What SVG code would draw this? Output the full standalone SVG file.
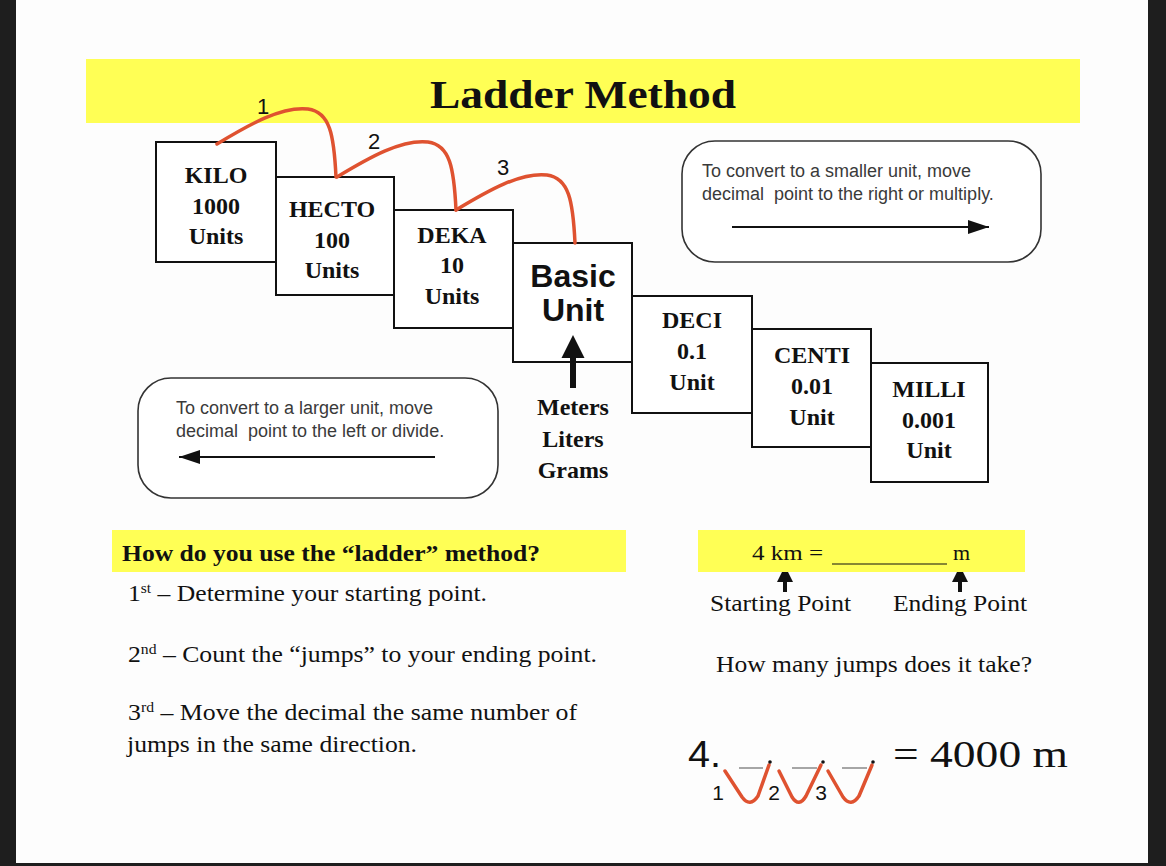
<svg xmlns="http://www.w3.org/2000/svg" width="1166" height="866" viewBox="0 0 1166 866">
<style>
.box{fill:#fff;stroke:#111;stroke-width:2}
.rbox{fill:#fff;stroke:#333;stroke-width:1.6}
.bt{font-family:"Liberation Serif","Times New Roman",serif;font-weight:bold;font-size:24px;fill:#111;text-anchor:middle}
.note{font-family:"Liberation Sans",Arial,sans-serif;font-size:18px;fill:#3a3a3a}
.ser{font-family:"Liberation Serif","Times New Roman",serif;fill:#111}
.san{font-family:"Liberation Sans",Arial,sans-serif;fill:#111}
.jump{fill:none;stroke:#df5230;stroke-width:3.5;stroke-linecap:round;stroke-linejoin:round}
.yel{fill:#ffff55}
</style>
<defs>
<marker id="ah" viewBox="0 0 21 14" refX="21" refY="7" markerWidth="21" markerHeight="14" markerUnits="userSpaceOnUse" orient="auto">
<path d="M0,0 L21,7 L0,14 Z" fill="#111"/>
</marker>
</defs>
<rect x="0" y="0" width="1166" height="866" fill="#1e1e1e"/>
<rect x="16" y="0" width="1132" height="863" fill="#fdfdfd"/>

<g id="title">
<rect class="yel" x="86" y="59" width="994" height="64"/>
<text class="ser" x="430" y="108" font-size="41" font-weight="bold" textLength="306" lengthAdjust="spacingAndGlyphs">Ladder Method</text>
</g>

<g id="kilo"><rect class="box" x="156" y="142" width="120" height="120"/>
<text class="bt" x="216" y="183">KILO</text><text class="bt" x="216" y="214">1000</text><text class="bt" x="216" y="244">Units</text></g>
<g id="hecto"><rect class="box" x="276" y="177" width="118" height="118"/>
<text class="bt" x="332" y="217">HECTO</text><text class="bt" x="332" y="248">100</text><text class="bt" x="332" y="278">Units</text></g>
<g id="deka"><rect class="box" x="394" y="210" width="119" height="118"/>
<text class="bt" x="452" y="243">DEKA</text><text class="bt" x="452" y="273">10</text><text class="bt" x="452" y="304">Units</text></g>
<g id="basic"><rect class="box" x="513" y="243" width="119" height="119"/>
<text class="san" x="573" y="287" font-size="32" font-weight="bold" text-anchor="middle">Basic</text>
<text class="san" x="573" y="321" font-size="32" font-weight="bold" text-anchor="middle">Unit</text></g>
<g id="deci"><rect class="box" x="632" y="296" width="120" height="117"/>
<text class="bt" x="692" y="328">DECI</text><text class="bt" x="692" y="359">0.1</text><text class="bt" x="692" y="390">Unit</text></g>
<g id="centi"><rect class="box" x="752" y="329" width="119" height="118"/>
<text class="bt" x="812" y="363">CENTI</text><text class="bt" x="812" y="394">0.01</text><text class="bt" x="812" y="425">Unit</text></g>
<g id="milli"><rect class="box" x="871" y="363" width="117" height="119"/>
<text class="bt" x="929" y="397">MILLI</text><text class="bt" x="929" y="428">0.001</text><text class="bt" x="929" y="458">Unit</text></g>

<g id="base-units">
<text class="bt" x="573" y="415">Meters</text><text class="bt" x="573" y="447">Liters</text><text class="bt" x="573" y="478">Grams</text>
</g>

<g id="smaller-note">
<rect class="rbox" x="682" y="141" width="359" height="121" rx="33"/>
<text class="note" x="702" y="177">To convert to a smaller unit, move</text>
<text class="note" x="702" y="200" xml:space="preserve">decimal  point to the right or multiply.</text>
</g>
<g id="larger-note">
<rect class="rbox" x="138" y="378" width="360" height="120" rx="33"/>
<text class="note" x="176" y="414">To convert to a larger unit, move</text>
<text class="note" x="176" y="437" xml:space="preserve">decimal  point to the left or divide.</text>
</g>

<g id="connectors">
<path class="jump" d="M217,144 C250,124 282,106 308,109 C330,112 334,135 336,177"/>
<path class="jump" d="M337,177 C370,157 402,139 428,142 C450,145 454,168 456,210"/>
<path class="jump" d="M456,210 C489,190 521,172 547,175 C569,178 573,201 575,243"/>
<line x1="732" y1="227" x2="989" y2="227" stroke="#111" stroke-width="2" marker-end="url(#ah)"/>
<line x1="435" y1="457" x2="179" y2="457" stroke="#111" stroke-width="2" marker-end="url(#ah)"/>
<path d="M573,335 L584.5,358 L576,358 L576,388 L570,388 L570,358 L561.5,358 Z" fill="#111"/>
<path d="M785,566 L793,582 L787,582 L787,592 L783,592 L783,582 L777,582 Z" fill="#111"/>
<path d="M960,566 L968,582 L962,582 L962,592 L958,592 L958,582 L952,582 Z" fill="#111"/>
<path class="jump" d="M725,771 L742,797 Q750,808 758,796 L769,765"/>
<path class="jump" d="M779,771 L792,797 Q799,808 806,796 L821,765"/>
<path class="jump" d="M828,771 L843,797 Q851,808 859,796 L872,765"/>
</g>

<g id="jump-labels">
<text class="san" x="263" y="114" font-size="22" text-anchor="middle">1</text>
<text class="san" x="374" y="149" font-size="22" text-anchor="middle">2</text>
<text class="san" x="503" y="175" font-size="22" text-anchor="middle">3</text>
</g>

<g id="howto">
<rect class="yel" x="112" y="530" width="514" height="42"/>
<text class="ser" x="122" y="561" font-size="23" font-weight="bold" textLength="418" lengthAdjust="spacingAndGlyphs">How do you use the “ladder” method?</text>
<text class="ser" x="128" y="601" font-size="23" textLength="359" lengthAdjust="spacingAndGlyphs">1<tspan font-size="14" dy="-8">st</tspan><tspan dy="8"> – Determine your starting point.</tspan></text>
<text class="ser" x="128" y="662" font-size="23" textLength="469" lengthAdjust="spacingAndGlyphs">2<tspan font-size="14" dy="-8">nd</tspan><tspan dy="8"> – Count the “jumps” to your ending point.</tspan></text>
<text class="ser" x="128" y="720" font-size="23" textLength="449" lengthAdjust="spacingAndGlyphs">3<tspan font-size="14" dy="-8">rd</tspan><tspan dy="8"> – Move the decimal the same number of</tspan></text>
<text class="ser" x="127" y="752" font-size="23" textLength="290" lengthAdjust="spacingAndGlyphs">jumps in the same direction.</text>
</g>

<g id="example">
<rect class="yel" x="698" y="530" width="327" height="42"/>
<text class="ser" x="752" y="560" font-size="22" textLength="71" lengthAdjust="spacingAndGlyphs">4 km =</text>
<line x1="832" y1="564" x2="947" y2="564" stroke="#111" stroke-width="1.2"/>
<text class="ser" x="953" y="560" font-size="22">m</text>
<text class="ser" x="710" y="611" font-size="24" textLength="141" lengthAdjust="spacingAndGlyphs">Starting Point</text>
<text class="ser" x="893" y="611" font-size="24" textLength="134" lengthAdjust="spacingAndGlyphs">Ending Point</text>
<text class="ser" x="716" y="672" font-size="24" textLength="316" lengthAdjust="spacingAndGlyphs">How many jumps does it take?</text>
<text class="san" x="688" y="767" font-size="36" textLength="33" lengthAdjust="spacingAndGlyphs">4.</text>
<g stroke="#888" stroke-width="1.5">
<line x1="739" y1="768" x2="763" y2="768"/><line x1="792" y1="768" x2="817" y2="768"/><line x1="842" y1="768" x2="867" y2="768"/>
</g>
<g fill="#111"><circle cx="770" cy="762" r="1.8"/><circle cx="823" cy="762" r="1.8"/><circle cx="873" cy="762" r="1.8"/></g>
<text class="ser" x="893" y="767" font-size="38" textLength="175" lengthAdjust="spacingAndGlyphs">= 4000 m</text>
<text class="san" x="718" y="800" font-size="21" text-anchor="middle">1</text>
<text class="san" x="774" y="800" font-size="21" text-anchor="middle">2</text>
<text class="san" x="821" y="800" font-size="21" text-anchor="middle">3</text>
</g>
</svg>
